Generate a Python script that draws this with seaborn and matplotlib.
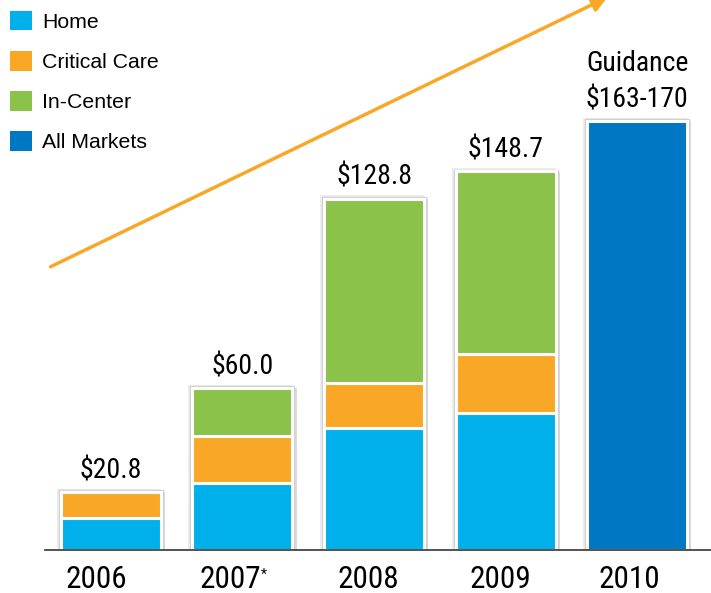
import numpy as np
import pandas as pd
import matplotlib.pyplot as plt
import seaborn as sns
from matplotlib.patches import Patch
import matplotlib.patheffects as pe
import matplotlib.transforms as mtransforms

sns.set_style("white")
plt.rcParams["font.family"] = ["Liberation Sans", "DejaVu Sans"]
plt.rcParams["text.color"] = "black"
plt.rcParams["xtick.color"] = "black"
narrow = ["Roboto Condensed", "Liberation Sans"]

years = ["2006", "2007", "2008", "2009", "2010"]
home = [12.6, 26.3, 48.0, 53.9, 0]
critical = [10.2, 18.5, 17.7, 23.2, 0]
in_center = [0, 18.9, 72.3, 71.6, 0]
all_markets = [0, 0, 0, 0, 168.6]
value_labels = ["$20.8", "$60.0", "$128.8", "$148.7", "Guidance\n$163-170"]

series = ["Home", "Critical Care", "In-Center", "All Markets"]
colors = ["#00B0EA", "#F9A727", "#8BC34A", "#0077C2"]

df = pd.DataFrame({"year": years, "Home": home, "Critical Care": critical,
                   "In-Center": in_center, "All Markets": all_markets})
df["total"] = df[series].sum(axis=1)

W, H = 711, 593
fig = plt.figure(figsize=(W / 100, H / 100), dpi=100)
ax = fig.add_axes([45 / W, 43 / H, 666 / W, 550 / H])

# white frame behind each stack, with soft shadow
sns.barplot(data=df, x="year", y=df["total"] + 0.7, color="white",
            width=0.79, ax=ax, saturation=1, edgecolor="#d0d0d0", linewidth=1.0)
for p in ax.patches:
    p.set_path_effects([pe.SimplePatchShadow(offset=(1.5, -1.5), shadow_rgbFace="#999999", alpha=0.35),
                        pe.SimplePatchShadow(offset=(-1.5, 1.0), shadow_rgbFace="#bbbbbb", alpha=0.25),
                        pe.Normal()])

bottom = np.zeros(len(df))
for name, c in zip(series, colors):
    sns.barplot(data=df, x="year", y=name, color=c, width=0.76, bottom=bottom,
                edgecolor="white", linewidth=2.2, ax=ax, saturation=1)
    bottom = bottom + df[name].values

ax.set_xlim(-0.5, 4.56)
ax.set_ylim(0, 216)
ax.set_xlabel("")
ax.set_ylabel("")
ax.set_yticks([])
ax.set_xticks(range(len(years)))
ax.set_xticklabels(years, fontsize=22.5, family=narrow)
ax.tick_params(axis="x", length=0, pad=11)
# year labels sit a little left of the bar centres in the original
shift_px = [-14, -12.5, -6, -5, -8]
for lab, dx in zip(ax.get_xticklabels(), shift_px):
    lab.set_transform(lab.get_transform() + mtransforms.ScaledTranslation(dx / 100, 0, fig.dpi_scale_trans))
for s in ["top", "right", "left"]:
    ax.spines[s].set_visible(False)
ax.spines["bottom"].set_color("#444444")
ax.spines["bottom"].set_linewidth(1.3)
ax.annotate("*", xy=(1, 0), xycoords="data", xytext=(13.5, -12.5), textcoords="offset points",
            fontsize=10, ha="left", va="top", family=narrow)

for i, (t, lab) in enumerate(zip(df["total"], value_labels)):
    ax.text(i, t + 3.0, lab, ha="center", va="bottom", fontsize=20,
            family=narrow, linespacing=1.42)

# growth arrow
fig.add_artist(plt.Annotation("", xy=(610 / W, 1 - (-4) / H), xytext=(48 / W, 1 - 268 / H),
                              xycoords="figure fraction", textcoords="figure fraction",
                              arrowprops=dict(arrowstyle="-|>,head_length=0.9,head_width=0.45",
                                              color="#F9A727", lw=2.5)))

handles = [Patch(facecolor=c, edgecolor="none") for c in colors]
fig.legend(handles, series, loc="upper left", bbox_to_anchor=(10 / W, 1 - 11 / H),
           frameon=False, fontsize=15.3, handlelength=1.03, handleheight=1.03,
           handletextpad=0.48, labelspacing=0.9, borderpad=0, borderaxespad=0)

fig.savefig("out.png", dpi=100)
